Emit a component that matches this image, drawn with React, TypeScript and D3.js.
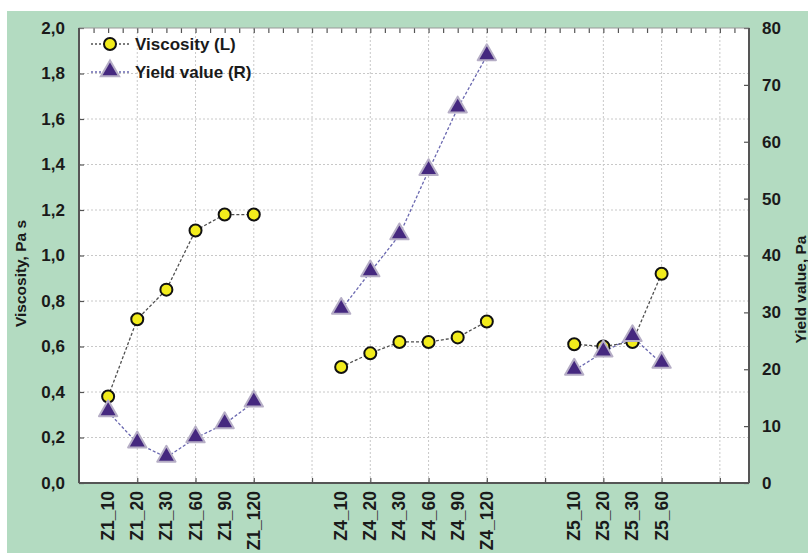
import React, { useEffect, useRef } from "react"
import * as d3 from "d3"

// categories with their slot on the x axis (gaps between groups are empty slots)
const categories = [
	"Z1_10", "Z1_20", "Z1_30", "Z1_60", "Z1_90", "Z1_120",
	"Z4_10", "Z4_20", "Z4_30", "Z4_60", "Z4_90", "Z4_120",
	"Z5_10", "Z5_20", "Z5_30", "Z5_60",
]
const slots = [1, 2, 3, 4, 5, 6, 9, 10, 11, 12, 13, 14, 17, 18, 19, 20]
const groups = [6, 6, 4]

const viscosity = [
	0.38, 0.72, 0.85, 1.11, 1.18, 1.18,
	0.51, 0.57, 0.62, 0.62, 0.64, 0.71,
	0.61, 0.6, 0.62, 0.92,
]
const yieldValue = [
	12.5, 7.0, 4.5, 7.9, 10.4, 14.2,
	30.5, 37.1, 43.6, 54.9, 65.9, 75.1,
	19.8, 23.0, 25.7, 21.0,
]

const leftTicks = [0, 0.2, 0.4, 0.6, 0.8, 1.0, 1.2, 1.4, 1.6, 1.8, 2.0]
const rightTicks = [0, 10, 20, 30, 40, 50, 60, 70, 80]

const W = 808
const H = 553
const margin = { top: 28, right: 59, bottom: 70, left: 79 }

const App: React.FC = () => {
	const ref = useRef<SVGSVGElement>(null)

	useEffect(() => {
		const svg = d3.select(ref.current)
		svg.selectAll("*").remove()

		const innerW = W - margin.left - margin.right
		const innerH = H - margin.top - margin.bottom
		const font = "'Liberation Sans', Arial, sans-serif"

		// background
		svg.append("rect").attr("width", W).attr("height", H).attr("fill", "#ffffff")
		svg.append("rect")
			.attr("x", 7).attr("y", 11)
			.attr("width", W - 7).attr("height", H - 11)
			.attr("fill", "#b3dbc1")

		const g = svg.append("g").attr("transform", `translate(${margin.left},${margin.top})`)
		g.append("rect").attr("width", innerW).attr("height", innerH).attr("fill", "#ffffff")

		const x = d3.scaleLinear().domain([0, 23]).range([0, innerW])
		const yL = d3.scaleLinear().domain([0, 2]).range([innerH, 0])
		const yR = d3.scaleLinear().domain([0, 80]).range([innerH, 0])

		/* ********** GRID ********** */
		const gridX = d3.range(2, 23, 2)
		g.append("g").selectAll("line").data(gridX).join("line")
			.attr("x1", (d) => x(d)).attr("x2", (d) => x(d))
			.attr("y1", 0).attr("y2", innerH)
			.attr("stroke", "#c8c8c8").attr("stroke-width", 1)
			.attr("stroke-dasharray", "2,2")
		g.append("g").selectAll("line").data(leftTicks.slice(1, -1)).join("line")
			.attr("x1", 0).attr("x2", innerW)
			.attr("y1", (d) => yL(d)).attr("y2", (d) => yL(d))
			.attr("stroke", "#c8c8c8").attr("stroke-width", 1)
			.attr("stroke-dasharray", "2,2")

		/* ********** AXES ********** */
		const tickLen = -5
		const styleAxis = (sel: any) => {
			sel.select(".domain").remove()
			sel.selectAll(".tick line").attr("stroke", "#555").attr("stroke-width", 1.2)
			sel.selectAll(".tick text")
				.attr("fill", "#1a1a1a")
				.style("font-family", font)
				.style("font-weight", "bold")
				.style("font-size", "17px")
		}

		const fmtL = (d: any) => d3.format(".1f")(d).replace(".", ",")

		const axL = g.append("g").call(
			d3.axisLeft(yL).tickValues(leftTicks).tickSize(tickLen).tickPadding(14).tickFormat(fmtL)
		)
		styleAxis(axL)

		const axR = g.append("g").attr("transform", `translate(${innerW},0)`).call(
			d3.axisRight(yR).tickValues(rightTicks).tickSize(tickLen).tickPadding(13).tickFormat(d3.format("d"))
		)
		styleAxis(axR)

		const axB = g.append("g").attr("transform", `translate(0,${innerH})`).call(
			d3.axisBottom(x).tickValues(gridX).tickSize(tickLen).tickFormat(() => "")
		)
		styleAxis(axB)

		const axT = g.append("g").call(
			d3.axisTop(x).tickValues(d3.range(0.5, 23, 0.5)).tickSize(tickLen).tickFormat(() => "")
		)
		styleAxis(axT)

		// category labels, rotated
		g.append("g").selectAll("text").data(categories).join("text")
			.attr("transform", (d, i) => `translate(${x(slots[i]) + 6},${innerH + 8}) rotate(-90)`)
			.attr("text-anchor", "end")
			.attr("fill", "#1a1a1a")
			.style("font-family", font)
			.style("font-weight", "bold")
			.style("font-size", "17.5px")
			.text((d) => d)

		// frame
		g.append("rect").attr("width", innerW).attr("height", innerH)
			.attr("fill", "none").attr("stroke", "#9a9a9a").attr("stroke-width", 1)
		g.append("line").attr("x1", 0).attr("x2", 0).attr("y1", 0).attr("y2", innerH)
			.attr("stroke", "#555").attr("stroke-width", 2)
		g.append("line").attr("x1", innerW).attr("x2", innerW).attr("y1", 0).attr("y2", innerH)
			.attr("stroke", "#555").attr("stroke-width", 2)
		g.append("line").attr("x1", 0).attr("x2", innerW).attr("y1", innerH).attr("y2", innerH)
			.attr("stroke", "#555").attr("stroke-width", 2)

		// axis titles
		svg.append("text")
			.attr("transform", `translate(26,${margin.top + innerH / 2 + 18}) rotate(-90)`)
			.attr("text-anchor", "middle")
			.attr("fill", "#1a1a1a")
			.style("font-family", font).style("font-weight", "bold").style("font-size", "15.5px")
			.text("Viscosity, Pa s")
		svg.append("text")
			.attr("transform", `translate(806,${margin.top + innerH / 2 + 34}) rotate(-90)`)
			.attr("text-anchor", "middle")
			.attr("fill", "#1a1a1a")
			.style("font-family", font).style("font-weight", "bold").style("font-size", "15.5px")
			.text("Yield value, Pa")

		/* ********** SERIES ********** */
		let start = 0
		const visGroups: [number, number][][] = []
		const yldGroups: [number, number][][] = []
		groups.forEach((n) => {
			const idx = d3.range(start, start + n)
			visGroups.push(idx.map((i) => [x(slots[i]), yL(viscosity[i])]))
			yldGroups.push(idx.map((i) => [x(slots[i]), yR(yieldValue[i])]))
			start += n
		})

		const line = d3.line()
		const triangle = d3.symbol().type(d3.symbolTriangle).size(145)

		g.append("g").selectAll("path").data(yldGroups).join("path")
			.attr("d", (d) => line(d))
			.attr("fill", "none").attr("stroke", "#6a68b0")
			.attr("stroke-width", 1.3).attr("stroke-dasharray", "3,2")
		g.append("g").selectAll("path").data(visGroups).join("path")
			.attr("d", (d) => line(d))
			.attr("fill", "none").attr("stroke", "#505050")
			.attr("stroke-width", 1.3).attr("stroke-dasharray", "3,2")

		g.append("g").selectAll("circle").data(viscosity).join("circle")
			.attr("cx", (d, i) => x(slots[i]))
			.attr("cy", (d) => yL(d))
			.attr("r", 6)
			.attr("fill", "#f2ec1c").attr("stroke", "#111").attr("stroke-width", 2)

		g.append("g").selectAll("path").data(yieldValue).join("path")
			.attr("transform", (d, i) => `translate(${x(slots[i])},${yR(d) - 1})`)
			.attr("d", triangle)
			.attr("fill", "#45287f").attr("stroke", "#b6aec6").attr("stroke-width", 2)
			.attr("stroke-linejoin", "round")

		/* ********** LEGEND ********** */
		const leg = g.append("g").attr("transform", "translate(12,16)")
		const items = [
			{ label: "Viscosity (L)", color: "#505050", kind: "circle" },
			{ label: "Yield value (R)", color: "#6a68b0", kind: "triangle" },
		]
		items.forEach((it, i) => {
			const row = leg.append("g").attr("transform", `translate(0,${i * 28})`)
			row.append("line").attr("x1", 0).attr("x2", 38).attr("y1", 0).attr("y2", 0)
				.attr("stroke", it.color).attr("stroke-width", 1.3).attr("stroke-dasharray", "2,2")
			if (it.kind === "circle") {
				row.append("circle").attr("cx", 19).attr("cy", 0).attr("r", 6)
					.attr("fill", "#f2ec1c").attr("stroke", "#111").attr("stroke-width", 2)
			} else {
				row.append("path").attr("transform", "translate(19,-1)").attr("d", triangle)
					.attr("fill", "#45287f").attr("stroke", "#b6aec6").attr("stroke-width", 2)
			}
			row.append("text").attr("x", 44).attr("y", 6)
				.attr("fill", "#1a1a1a")
				.style("font-family", font).style("font-weight", "bold").style("font-size", "17px")
				.text(it.label)
		})
	}, [])

	return (
		<svg
			ref={ref}
			width={W}
			height={H}
			style={{ position: "absolute", left: 0, top: 0 }}
		/>
	)
}

export default App
